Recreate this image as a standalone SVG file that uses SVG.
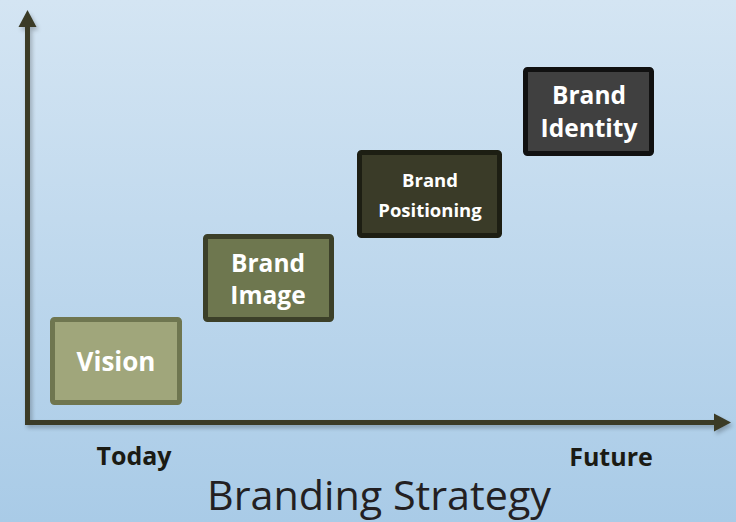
<svg xmlns="http://www.w3.org/2000/svg" width="736" height="522" viewBox="0 0 736 522">
<defs>
<linearGradient id="bg" x1="0" y1="0" x2="0" y2="1">
<stop offset="0" stop-color="#d4e5f3"/>
<stop offset="1" stop-color="#a9cbe7"/>
</linearGradient>
<filter id="sh" x="-5%" y="-5%" width="110%" height="110%">
<feGaussianBlur in="SourceAlpha" stdDeviation="2"/>
<feOffset dx="2" dy="3" result="b"/>
<feComponentTransfer><feFuncA type="linear" slope="0.25"/></feComponentTransfer>
<feMerge><feMergeNode/><feMergeNode in="SourceGraphic"/></feMerge>
</filter>
<marker id="ah" markerWidth="4" markerHeight="4" refX="1" refY="2" orient="auto" markerUnits="strokeWidth">
<path d="M0,0.2 L3.4,2 L0,3.8 Z" fill="#3a3b28"/>
</marker>
</defs>
<style>
.box{stroke-width:5}
.lbl{font-family:"Open Sans","Noto Sans",sans-serif;font-weight:bold;fill:#ffffff;text-anchor:middle}
.axl{font-family:"Open Sans","Noto Sans",sans-serif;font-weight:bold;fill:#1b1b14;text-anchor:middle;font-size:25px}
</style>
<rect x="0" y="0" width="736" height="522" fill="url(#bg)"/>
<g id="connectors" filter="url(#sh)">
<path d="M27.5,425 L27.5,22" fill="none" stroke="#3a3b28" stroke-width="5" marker-end="url(#ah)"/>
<path d="M25,422.5 L719,422.5" fill="none" stroke="#3a3b28" stroke-width="5" marker-end="url(#ah)"/>
</g>
<g id="vision">
<rect class="box" x="52.5" y="319.5" width="127" height="83" rx="2" fill="#a0a67b" stroke="#6f7650"/>
<text class="lbl" x="116" y="371" font-size="26">Vision</text>
</g>
<g id="brand-image">
<rect class="box" x="205.5" y="236.5" width="126" height="83" rx="2" fill="#6e774f" stroke="#3c4029"/>
<text class="lbl" x="268" y="272" font-size="24.5">Brand</text>
<text class="lbl" x="268" y="304" font-size="24.5">Image</text>
</g>
<g id="brand-positioning">
<rect class="box" x="359.5" y="152.5" width="140" height="83" rx="2" fill="#3a3b28" stroke="#1d1e13"/>
<text class="lbl" x="430" y="187" font-size="18.5">Brand</text>
<text class="lbl" x="430" y="217" font-size="18.5">Positioning</text>
</g>
<g id="brand-identity">
<rect class="box" x="525.5" y="69.5" width="126" height="84" rx="2" fill="#404040" stroke="#111111"/>
<text class="lbl" x="589" y="104" font-size="24.5">Brand</text>
<text class="lbl" x="589" y="137" font-size="24.5">Identity</text>
</g>
<g id="axis-labels">
<text class="axl" x="134" y="465">Today</text>
<text class="axl" x="611" y="466">Future</text>
</g>
<g id="title">
<text x="379" y="510" text-anchor="middle" font-family="Open Sans, Noto Sans, sans-serif" font-size="40" fill="#231f22" textLength="344" lengthAdjust="spacingAndGlyphs">Branding Strategy</text>
</g>
</svg>
